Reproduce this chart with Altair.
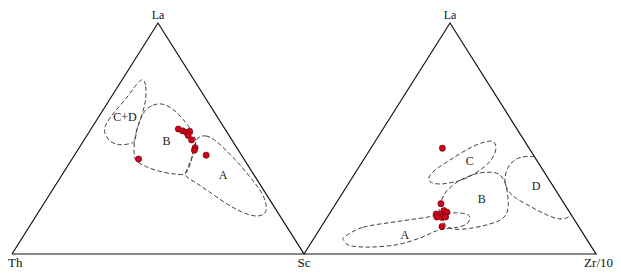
import altair as alt
import pandas as pd

# ---------------- data (percent compositions) ----------------
# Left diagram La - Th - Sc  (Th = 100 - La - Sc)
left_La = [54.1, 53.3, 52.6, 53.1, 51.3, 49.4, 46.0, 44.9, 42.8, 41.1]
left_Sc = [29.9, 31.8, 33.5, 34.3, 34.7, 36.8, 39.7, 40.0, 45.1, 22.8]

# Right diagram La - Sc - Zr/10  (Sc = 100 - La - Zr/10)
right_La = [45.8, 21.8, 18.8, 18.1, 17.3, 17.1, 16.0, 15.8, 16.0, 11.9]
right_Zr = [24.5, 36.0, 38.5, 39.9, 36.6, 38.0, 37.5, 39.4, 40.5, 41.3]

# Field boundaries, left diagram (La, Sc)
fL_CD_La = [75.4, 72.6, 66.1, 59.7, 54.0, 49.0, 47.8, 47.3, 49.0, 53.0, 56.8, 61.6, 67.6, 73.3]
fL_CD_Sc = [7.0, 9.5, 12.6, 14.5, 15.8, 17.5, 16.4, 13.2, 9.0, 5.2, 4.1, 4.4, 5.4, 6.0]
fL_B_La = [62.6, 64.4, 65.0, 64.0, 61.6, 58.3, 55.0, 51.9, 49.0, 43.3, 38.3, 34.7, 34.7,
           35.8, 37.8, 40.4, 44.0, 49.0, 54.0, 59.3]
fL_B_Sc = [14.7, 16.1, 18.3, 21.4, 25.3, 29.4, 33.1, 36.0, 38.3, 40.3, 41.7, 41.8, 37.8,
           32.7, 27.1, 22.4, 19.8, 17.5, 15.8, 14.7]
fL_A_La = [50.2, 51.1, 49.3, 44.7, 38.7, 31.8, 25.8, 20.4, 17.3, 16.5, 18.3, 21.9, 26.8,
           30.7, 34.0, 37.5, 41.8, 46.8]
fL_A_Sc = [38.6, 40.8, 44.8, 51.1, 58.6, 66.6, 72.9, 76.9, 77.5, 74.8, 69.4, 62.4, 54.3,
           47.8, 42.5, 41.5, 40.7, 39.2]

# Field boundaries, right diagram (La, Zr/10)
fR_C_La = [48.7, 45.4, 40.4, 35.8, 32.1, 30.4, 30.9, 33.3, 36.9, 41.6, 45.9, 48.3]
fR_C_Zr = [40.4, 43.0, 43.7, 41.8, 38.0, 32.5, 28.2, 26.2, 27.0, 30.3, 33.9, 37.2]
fR_B_La = [31.4, 34.4, 35.4, 34.7, 31.1, 26.8, 21.9, 17.6, 14.7, 12.6, 11.1, 10.7, 12.1,
           15.4, 19.7, 23.6, 27.6]
fR_B_Zr = [37.1, 40.8, 44.9, 49.2, 53.2, 56.2, 59.0, 60.6, 59.8, 56.3, 51.2, 46.4, 42.8,
           39.5, 36.4, 35.4, 35.3]
fR_A_La = [7.5, 11.6, 14.0, 15.9, 17.3, 17.8, 17.1, 15.4, 13.0, 11.6, 11.1, 10.1, 6.9,
           4.0, 3.0, 3.6, 5.8]
fR_A_Zr = [10.2, 14.5, 24.7, 34.0, 39.0, 43.4, 47.4, 49.1, 49.2, 47.0, 43.8, 40.4, 36.2,
           29.7, 21.1, 14.0, 10.8]
fR_D_La = [42.1, 42.1, 40.4, 36.9, 31.8, 27.3, 24.0, 20.7, 17.6, 15.4, 15.4, 16.8]
fR_D_Zr = [57.9, 54.0, 51.7, 51.2, 52.9, 56.4, 60.8, 67.0, 73.2, 78.8, 81.7, 83.2]

# Field label positions
lab_text = ["C+D", "B", "A", "C", "B", "A", "D"]
lab_side = ["L", "L", "L", "R", "R", "R", "R"]
lab_La = [59.3, 49.0, 34.0, 40.4, 24.0, 8.3, 29.3]
lab_s = [9.0, 28.4, 55.3, 36.6, 48.9, 30.4, 64.8]

# Triangle outlines (apex La, then base vertices)
tri_La = [0, 0, 100, 0]
tri_s = [0, 100, 0, 0]

OFF = {"L": 0, "R": 100}

def frame(La, s, side, group):
    return pd.DataFrame({"La": La, "s": s, "off": OFF[side], "g": group,
                         "i": list(range(len(La)))})

points = pd.concat([frame(left_La, left_Sc, "L", "pL"),
                    frame(right_La, right_Zr, "R", "pR")])
closed = pd.concat([frame(fL_CD_La, fL_CD_Sc, "L", "CD"),
                    frame(fL_B_La, fL_B_Sc, "L", "BL"),
                    frame(fL_A_La, fL_A_Sc, "L", "AL"),
                    frame(fR_C_La, fR_C_Zr, "R", "CR"),
                    frame(fR_B_La, fR_B_Zr, "R", "BR"),
                    frame(fR_A_La, fR_A_Zr, "R", "AR")])
opened = frame(fR_D_La, fR_D_Zr, "R", "DR")
tris = pd.concat([frame(tri_La, tri_s, "L", "tL"), frame(tri_La, tri_s, "R", "tR")])
labels = pd.DataFrame({"t": lab_text, "La": lab_La, "s": lab_s,
                       "off": [OFF[v] for v in lab_side]})

top_lab = pd.DataFrame({"t": ["La", "La"], "La": [100, 100], "s": [0, 0], "off": [0, 100]})
th_lab = pd.DataFrame({"t": ["Th"], "La": [0], "s": [0], "off": [0]})
sc_lab = pd.DataFrame({"t": ["Sc"], "La": [0], "s": [100], "off": [0]})
zr_lab = pd.DataFrame({"t": ["Zr/10"], "La": [0], "s": [100], "off": [100]})

xs = alt.Scale(domain=[0, 200], nice=False, zero=False)
ys = alt.Scale(domain=[0, 100], nice=False, zero=False)

def base(df):
    return alt.Chart(df).transform_calculate(
        px="datum.off + datum.s + datum.La / 2", py="datum.La"
    ).encode(
        x=alt.X("px:Q", scale=xs, axis=None),
        y=alt.Y("py:Q", scale=ys, axis=None),
    )

FONT = "Liberation Serif, Times New Roman, serif"

tri_layer = base(tris).mark_line(color="#111111", strokeWidth=1.2).encode(
    detail="g:N", order="i:Q")
closed_layer = base(closed).mark_line(
    color="#404040", strokeWidth=1.0, strokeDash=[4.5, 2.5], interpolate="cardinal-closed"
).encode(detail="g:N", order="i:Q")
open_layer = base(opened).mark_line(
    color="#404040", strokeWidth=1.0, strokeDash=[4.5, 2.5], interpolate="cardinal"
).encode(detail="g:N", order="i:Q")
pt_layer = base(points).mark_circle(
    size=38, fill="#d6001c", stroke="#4a0000", strokeWidth=0.6, opacity=1)
lab_layer = base(labels).mark_text(font=FONT, fontSize=12, color="#222222",
                                   baseline="middle").encode(text="t:N")
top_layer = base(top_lab).mark_text(font=FONT, fontSize=12, color="#111111",
                                    baseline="middle", dy=-8).encode(text="t:N")
th_layer = base(th_lab).mark_text(font=FONT, fontSize=13, color="#111111",
                                  baseline="middle", align="left", dx=-4, dy=9).encode(text="t:N")
sc_layer = base(sc_lab).mark_text(font=FONT, fontSize=13, color="#111111",
                                  baseline="middle", dy=9).encode(text="t:N")
zr_layer = base(zr_lab).mark_text(font=FONT, fontSize=13, color="#111111",
                                  baseline="middle", align="right", dx=17, dy=9).encode(text="t:N")

chart = alt.layer(
    tri_layer, closed_layer, open_layer, pt_layer, lab_layer,
    top_layer, th_layer, sc_layer, zr_layer
).properties(
    width=584, height=231,
    padding={"left": 4, "top": 15, "right": 17, "bottom": 16},
    autosize=alt.AutoSizeParams(type="none"),
).configure_view(stroke=None)

chart.save("out.html", embed_options={"renderer": "svg", "actions": False})
